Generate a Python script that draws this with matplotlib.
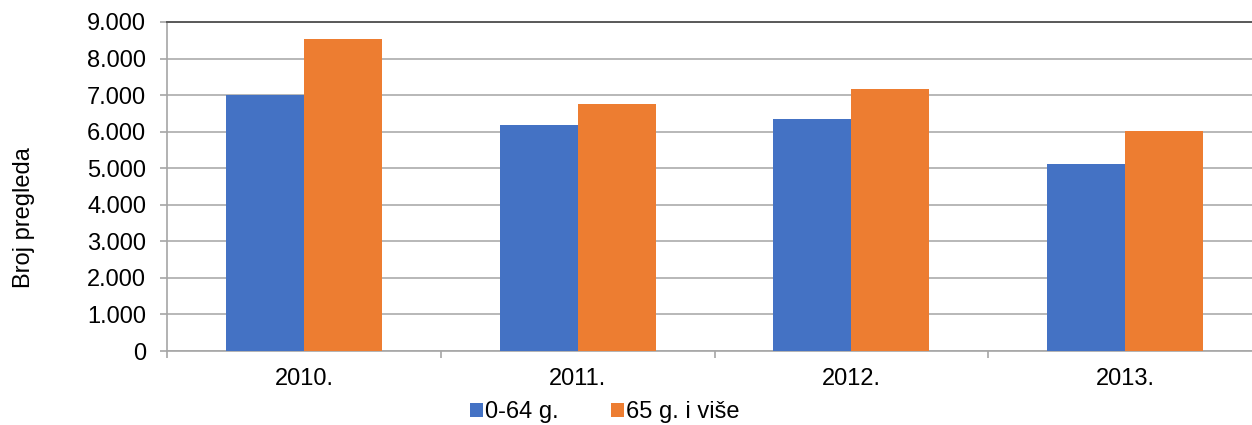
import matplotlib
matplotlib.use("Agg")
import matplotlib.pyplot as plt
from matplotlib.patches import Patch
from matplotlib.ticker import FuncFormatter, FixedLocator
import numpy as np

plt.rcParams['font.family'] = ['Liberation Sans', 'DejaVu Sans']

categories = ["2010.", "2011.", "2012.", "2013."]
series_names = ["0-64 g.", "65 g. i više"]
young = [7010, 6170, 6360, 5120]
old = [8530, 6770, 7170, 6030]
colors = ["#4472C4", "#ED7D31"]
ylabel = "Broj pregleda"

W, H = 1252, 425
fig = plt.figure(figsize=(W/100, H/100), dpi=100)
ax = fig.add_axes([167/W, (H-351)/H, (1262-167)/W, (351-22)/H])

x = np.arange(len(categories))
bw = 0.285
ax.bar(x - bw/2, young, bw, color=colors[0], zorder=3)
ax.bar(x + bw/2, old, bw, color=colors[1], zorder=3)

ax.set_xlim(-0.5, len(categories) - 0.5)
ax.set_ylim(0, 9000)
ax.set_yticks(np.arange(0, 9001, 1000))
ax.yaxis.set_major_formatter(FuncFormatter(lambda v, p: f"{int(v):,}".replace(",", ".")))
ax.grid(axis='y', color='#ABABAB', linewidth=1.2, zorder=0)
ax.set_axisbelow(True)

ax.set_xticks(x)
ax.set_xticklabels(categories)
ax.xaxis.set_minor_locator(FixedLocator(np.arange(-0.5, len(categories), 1.0)))
ax.tick_params(axis='x', which='major', length=0, pad=12, labelsize=17)
ax.tick_params(axis='x', which='minor', length=5, width=1.2, color='#A6A6A6')
ax.tick_params(axis='y', length=5, width=1.2, color='#A6A6A6', pad=10, labelsize=17)

for s in ['left', 'bottom']:
    ax.spines[s].set_color('#A6A6A6')
    ax.spines[s].set_linewidth(1.2)
ax.spines['right'].set_visible(False)
ax.spines['top'].set_color('#595959')
ax.spines['top'].set_linewidth(1.4)

fig.text(24/W, 1 - 218/H, ylabel, rotation=90, ha='center', va='center', fontsize=17)

handles = [Patch(facecolor=c, edgecolor='none') for c in colors]
fig.legend(handles, series_names, loc='center', bbox_to_anchor=(605/W, 1 - 412/H),
           ncol=2, frameon=False, fontsize=17, handlelength=0.55, handleheight=0.55,
           handletextpad=0.1, columnspacing=2.2, borderpad=0)

fig.savefig("out.png", dpi=100)
